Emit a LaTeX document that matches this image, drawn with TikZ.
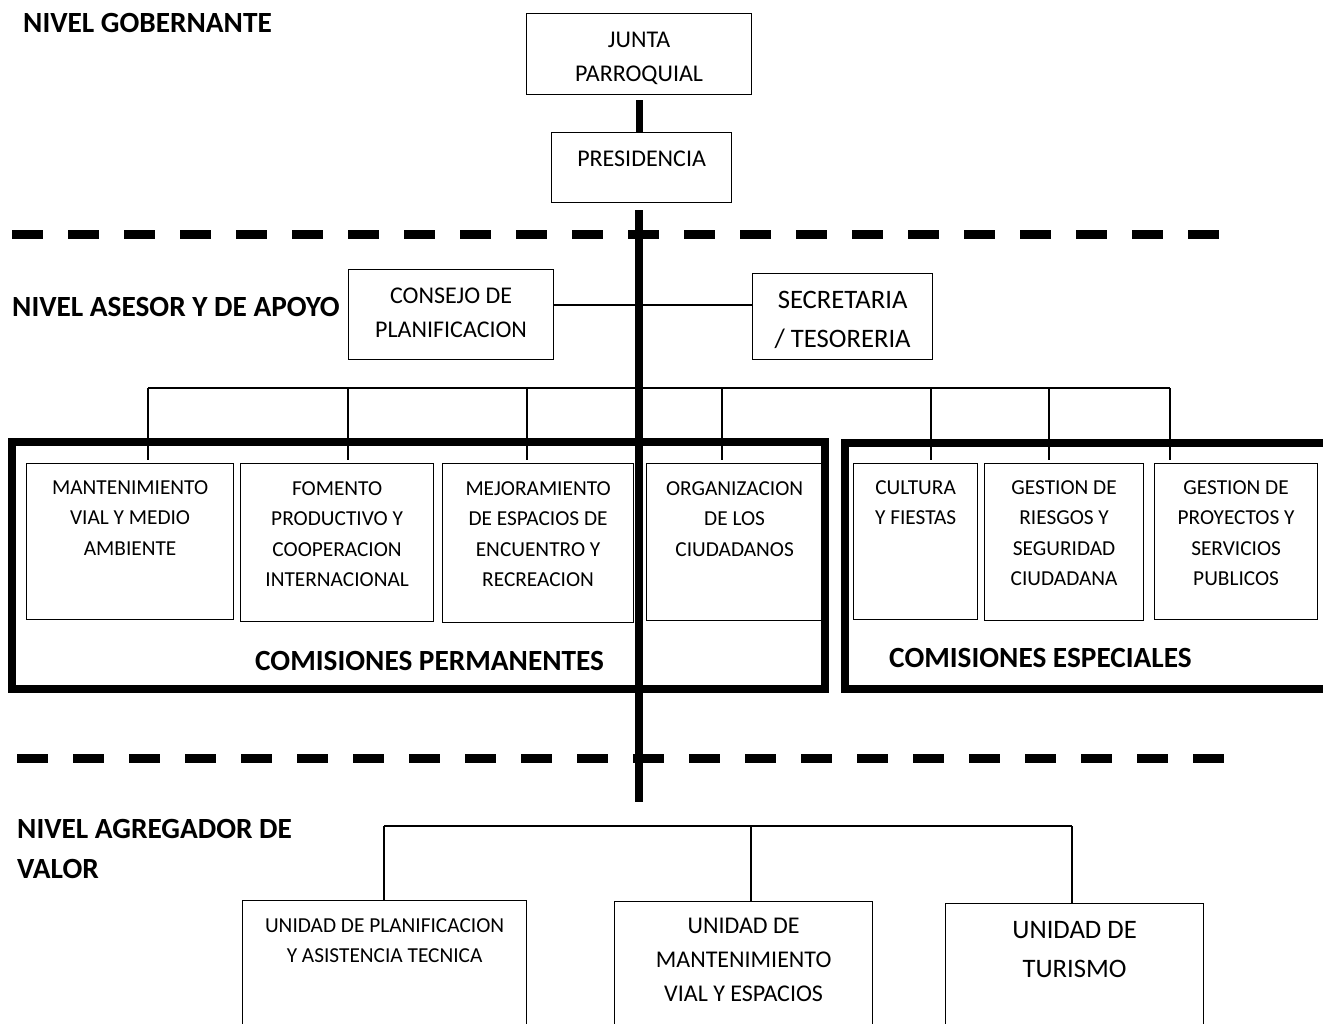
\documentclass[tikz,border=0pt]{standalone}
\usepackage{fontspec}
\setmainfont{Carlito}
\usepackage{tikz}

\newcommand{\chica}{\fontsize{21.33}{30.3}\selectfont}
\newcommand{\media}{\fontsize{24}{34}\selectfont}
\newcommand{\grande}{\fontsize{26.67}{39}\selectfont}

\tikzset{
	caja/.style n args={3}{draw, line width=1.2pt, anchor=north west, inner sep=0pt, align=flush center, text width=#1, text height=#2, text depth=#3},
	titulo/.style={font=\bfseries\fontsize{29.3}{40}\selectfont, inner sep=0pt},
	linea/.style={line width=1.3pt},
	grueso/.style={line width=8pt},
	marco/.style={line width=8pt},
	corte/.style={line width=9pt, dash pattern=on 31pt off 25pt},
}

\begin{document}
\begin{tikzpicture}[x=1pt,y=-1pt]
		\useasboundingbox (0,0) rectangle (1323,1024);
		
		% niveles
		\node[titulo, anchor=base west] (gobernante) at (23,33) {NIVEL GOBERNANTE};
		\node[titulo, anchor=base west] (asesor) at (12,317) {NIVEL ASESOR Y DE APOYO};
		\node[titulo, anchor=north west, align=flush left, text width=300pt, text height=21pt] (agregador) at (17,817) {NIVEL AGREGADOR DE\\VALOR};
		
		\draw[corte] (12,235) -- (1219,235);
		\draw[corte] (17,758) -- (1224,758);
		
		% comisiones
		\draw[marco] (11.5,442) rectangle (824.5,688.5);
		\draw[marco] (844.5,443) rectangle (1340,689);
		\node[titulo, anchor=base west] (permanentes) at (255,670) {COMISIONES PERMANENTES};
		\node[titulo, anchor=base west] (especiales) at (889,667) {COMISIONES ESPECIALES};
		
		\node[caja={225pt}{34pt}{47pt}, font=\media] (junta) at (526,13) {JUNTA\\PARROQUIAL};
		\node[caja={180pt}{34pt}{36pt}, font=\media] (presidencia) at (551,132) {PRESIDENCIA};
		\node[caja={205pt}{34pt}{56pt}, font=\media] (consejo) at (348,269) {CONSEJO DE\\PLANIFICACION};
		\node[caja={180pt}{35pt}{51pt}, font=\grande] (secretaria) at (752,273) {SECRETARIA\\/ TESORERIA};
		
		\node[caja={207pt}{31pt}{125pt}, font=\chica] (mantenimiento) at (26,463) {MANTENIMIENTO\\VIAL Y MEDIO\\AMBIENTE};
		\node[caja={193pt}{32pt}{126pt}, font=\chica] (fomento) at (240,463) {FOMENTO\\PRODUCTIVO Y\\COOPERACION\\INTERNACIONAL};
		\node[caja={191pt}{32pt}{127pt}, font=\chica] (mejoramiento) at (442,463) {MEJORAMIENTO\\DE ESPACIOS DE\\ENCUENTRO Y\\RECREACION};
		\node[caja={176pt}{32pt}{125pt}, font=\chica] (organizacion) at (646,463) {ORGANIZACION\\DE LOS\\CIUDADANOS};
		\node[caja={124pt}{31pt}{125pt}, font=\chica] (cultura) at (853,463) {CULTURA\\Y FIESTAS};
		\node[caja={159pt}{31pt}{126pt}, font=\chica] (riesgos) at (984,463) {GESTION DE\\RIESGOS Y\\SEGURIDAD\\CIUDADANA};
		\node[caja={163pt}{31pt}{125pt}, font=\chica] (proyectos) at (1154,463) {GESTION DE\\PROYECTOS Y\\SERVICIOS\\PUBLICOS};
		
		\node[caja={284pt}{32pt}{108pt}, font=\chica] (planificacion) at (242,900) {UNIDAD DE PLANIFICACION\\Y ASISTENCIA TECNICA};
		\node[caja={258pt}{32pt}{108pt}, font=\media] (vial) at (614,901) {UNIDAD DE\\MANTENIMIENTO\\VIAL Y ESPACIOS};
		\node[caja={258pt}{35pt}{105pt}, font=\grande] (turismo) at (945,903) {UNIDAD DE\\TURISMO};
		
		% lineas
		\coordinate (apoyo) at (0,305);
		\draw[linea] (consejo.east |- apoyo) -- (secretaria.west |- apoyo);
		
		\draw[linea] (148,388) -- (1170,388);
		\foreach \x/\b in {148/mantenimiento, 348/fomento, 527/mejoramiento, 722/organizacion, 931/cultura, 1049/riesgos, 1170/proyectos}
			\draw[linea] (\x,388) coordinate (t) -- ([yshift=3pt]t |- \b.north);
		
		\draw[linea] (384,826) -- (1072,826);
		\foreach \x/\b in {384/planificacion, 751/vial, 1072/turismo}
			\draw[linea] (\x,826) coordinate (t) -- (t |- \b.north);
		
		\coordinate (fin) at (639,802);
		\draw[line width=7pt] ([yshift=-5pt]junta.south) -- (junta.south |- presidencia.north);
		\draw[grueso] ([yshift=-7pt]presidencia.south -| fin) -- (fin);
	\end{tikzpicture}
\end{document}
